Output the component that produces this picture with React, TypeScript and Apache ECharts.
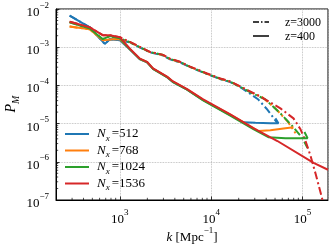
import React, { useEffect, useRef } from 'react';
import * as echarts from 'echarts';

const COLORS = ['#1f77b4', '#ff7f0e', '#2ca02c', '#d62728'];
const resolutions = ['512', '768', '1024', '1536'];

// z = 400 (solid)
const blueZ400: [number, number][] = [
  [282, 6.67e-3], [468, 3.32e-3], [684, 1.22e-3], [776, 1.62e-3], [1000, 1.53e-3],
  [1288, 8.7e-4], [1660, 4.8e-4], [1982, 4.0e-4], [2307, 2.7e-4], [3283, 1.64e-4],
  [3821, 1.22e-4], [5448, 7.7e-5], [8166, 4.1e-5], [16180, 1.66e-5], [22490, 1.08e-5],
  [30500, 1.05e-5], [44460, 1.02e-5], [54450, 1.02e-5], [50470, 1.37e-5],
];
const orangeZ400: [number, number][] = [
  [282, 3.46e-3], [468, 2.94e-3], [650, 1.53e-3], [837, 1.62e-3], [1000, 1.62e-3],
  [1288, 8.9e-4], [1660, 4.9e-4], [1982, 4.1e-4], [2307, 2.75e-4], [3283, 1.68e-4],
  [3821, 1.25e-4], [5448, 7.9e-5], [8166, 4.2e-5], [16180, 1.71e-5], [28970, 7.6e-6],
  [32830, 6.4e-6], [44460, 6.7e-6], [65010, 7.6e-6], [79620, 8.0e-6],
];
const greenZ400: [number, number][] = [
  [282, 4.5e-3], [468, 3.1e-3], [650, 1.62e-3], [776, 1.95e-3], [1000, 1.7e-3],
  [1288, 8.8e-4], [1660, 4.85e-4], [1982, 4.05e-4], [2307, 2.7e-4], [3283, 1.65e-4],
  [3821, 1.22e-4], [5448, 7.7e-5], [8166, 4.05e-5], [16180, 1.62e-5], [28970, 7.2e-6],
  [42270, 4.4e-6], [65010, 4.16e-6], [95000, 4.16e-6], [113500, 4.16e-6], [105000, 6.0e-6],
];
const redZ400: [number, number][] = [
  [282, 4.66e-3], [468, 3.32e-3], [650, 2.06e-3], [776, 2.06e-3], [1000, 1.83e-3],
  [1288, 9.1e-4], [1660, 5.0e-4], [1982, 4.15e-4], [2307, 2.8e-4], [3283, 1.7e-4],
  [3821, 1.27e-4], [5448, 8.0e-5], [8166, 4.3e-5], [16180, 1.75e-5], [28970, 7.6e-6],
  [53090, 3.5e-6], [132100, 9.4e-7], [190000, 6.2e-7],
];

// z = 3000 (dash-dot)
const blueZ3000: [number, number][] = [
  [282, 6.67e-3], [468, 3.32e-3], [684, 1.22e-3], [776, 1.62e-3], [1000, 1.53e-3],
  [1288, 1.33e-3], [1660, 9.8e-4], [2138, 7.3e-4], [2972, 6.1e-4], [3540, 4.8e-4],
  [4563, 4.0e-4], [5874, 3.0e-4], [9036, 1.97e-4], [12560, 1.46e-4], [16180, 1.22e-4],
  [20840, 9.0e-5], [26850, 6.0e-5], [32830, 4.26e-5], [40180, 2.49e-5], [46770, 1.55e-5],
  [53090, 1.02e-5],
];
const orangeZ3000: [number, number][] = [
  [282, 3.46e-3], [468, 2.94e-3], [650, 1.53e-3], [837, 1.62e-3], [1000, 1.62e-3],
  [1288, 1.36e-3], [1660, 1.0e-3], [2138, 7.47e-4], [2972, 6.24e-4], [3540, 4.92e-4],
  [4563, 4.11e-4], [5874, 3.05e-4], [9036, 2.01e-4], [12560, 1.49e-4], [16180, 1.25e-4],
  [20840, 9.25e-5], [28000, 6.4e-5], [36310, 4.9e-5], [50470, 2.49e-5], [68390, 1.15e-5],
  [83760, 5.6e-6],
];
const greenZ3000: [number, number][] = [
  [282, 4.5e-3], [468, 3.1e-3], [650, 1.62e-3], [776, 1.95e-3], [1000, 1.7e-3],
  [1288, 1.36e-3], [1660, 1.0e-3], [2138, 7.47e-4], [2972, 6.24e-4], [3540, 4.92e-4],
  [4563, 4.11e-4], [5874, 3.05e-4], [9036, 2.01e-4], [12560, 1.49e-4], [16180, 1.25e-4],
  [20840, 9.1e-5], [30000, 5.8e-5], [39170, 4.3e-5], [57280, 1.85e-5], [77620, 8.5e-6],
  [100000, 4.16e-6], [113500, 2.29e-6],
];
const redZ3000: [number, number][] = [
  [282, 4.66e-3], [468, 3.32e-3], [650, 2.06e-3], [776, 2.06e-3], [1000, 1.83e-3],
  [1288, 1.38e-3], [1660, 1.02e-3], [2138, 7.5e-4], [2972, 6.3e-4], [3540, 5.0e-4],
  [4563, 4.15e-4], [5874, 3.1e-4], [9036, 2.05e-4], [12560, 1.52e-4], [16180, 1.27e-4],
  [20840, 9.4e-5], [34540, 5.1e-5], [57280, 2.5e-5], [79620, 1.37e-5], [95000, 7.1e-6],
  [107900, 3.48e-6], [122500, 1.42e-6], [139000, 4.86e-7], [166000, 9.7e-8], [179000, 3.96e-8],
];

const z400Series = [blueZ400, orangeZ400, greenZ400, redZ400];
const z3000Series = [blueZ3000, orangeZ3000, greenZ3000, redZ3000];

const X_MIN = 200;
const X_MAX = 190000;
const Y_MIN = 1e-7;
const Y_MAX = 1e-2;

const xMinorTicks = [300, 400, 500, 600, 700, 800, 900, 2000, 3000, 4000, 5000, 6000, 7000, 8000, 9000,
  20000, 30000, 40000, 50000, 60000, 70000, 80000, 90000];
const yMinorTicks: number[] = [];
for (let e = -7; e < -2; e++) for (let m = 2; m <= 9; m++) yMinorTicks.push(m * Math.pow(10, e));

const SERIF = 'Liberation Serif';
const DASHDOT = [8, 3, 2, 3];

const fmtPow = (v: number) => {
  const e = Math.log10(v);
  const r = Math.round(e);
  if (Math.abs(e - r) > 1e-6) return '';
  return `{b|10}{s|${r < 0 ? '\u2212' + -r : r}}`;
};

const tickRich = {
  b: { fontFamily: SERIF, fontSize: 13, color: '#000', lineHeight: 18, verticalAlign: 'bottom' },
  s: { fontFamily: SERIF, fontSize: 9, color: '#000', lineHeight: 9, verticalAlign: 'top' },
};

export default function App() {
  const ref = useRef<HTMLDivElement>(null);
  useEffect(() => {
    const chart = echarts.init(ref.current!, null, { renderer: 'svg' });
    const series: any[] = [];
    z3000Series.forEach((d, i) => {
      series.push({
        type: 'line', data: d, showSymbol: false, symbol: 'none', z: 2,
        lineStyle: { color: COLORS[i], width: 2, type: DASHDOT },
      });
    });
    z400Series.forEach((d, i) => {
      series.push({
        type: 'line', data: d, showSymbol: false, symbol: 'none', z: 3,
        lineStyle: { color: COLORS[i], width: 2, type: 'solid' },
      });
    });
    const minorData: number[][] = [
      ...xMinorTicks.map((k) => [k, Y_MIN, 0]),
      ...yMinorTicks.map((p) => [X_MIN, p, 1]),
    ];
    series.push({
      type: 'custom', data: minorData, silent: true, z: 10, clip: false,
      renderItem: (_p: any, api: any) => {
        const t = api.value(2);
        const pt = api.coord([api.value(0), api.value(1)]);
        const len = 2.2;
        return {
          type: 'line',
          shape: t === 0
            ? { x1: pt[0], y1: pt[1], x2: pt[0], y2: pt[1] - len }
            : { x1: pt[0], y1: pt[1], x2: pt[0] + len, y2: pt[1] },
          style: { stroke: '#000', lineWidth: 0.7 },
        };
      },
    });

    const legendRows = resolutions.map((r, i) => [
      {
        type: 'line', shape: { x1: 65, y1: 134 + i * 16.5, x2: 89, y2: 134 + i * 16.5 },
        style: { stroke: COLORS[i], lineWidth: 2 },
      },
      {
        type: 'text', x: 97, y: 134 + i * 16.5,
        style: {
          text: `{n|N}{x|x}{t|=${r}}`,
          textVerticalAlign: 'middle',
          rich: {
            n: { fontFamily: SERIF, fontStyle: 'italic', fontSize: 13, lineHeight: 16, verticalAlign: 'top' },
            x: { fontFamily: SERIF, fontStyle: 'italic', fontSize: 9, lineHeight: 9, verticalAlign: 'bottom' },
            t: { fontFamily: SERIF, fontSize: 13, lineHeight: 16, verticalAlign: 'top', padding: [0, 0, 0, 2] },
          },
        },
      },
    ]).flat();

    chart.setOption({
      animation: false,
      grid: { left: 56, right: 6, top: 7, bottom: 50, show: true, borderColor: '#000', borderWidth: 1, backgroundColor: 'transparent' },
      xAxis: {
        type: 'log', logBase: 10, min: X_MIN, max: X_MAX,
        axisLine: { show: true, lineStyle: { color: '#000', width: 1 } },
        axisTick: { show: true, inside: true, length: 3.5, lineStyle: { color: '#000', width: 0.8 } },
        minorTick: { show: false },
        splitLine: { show: true, lineStyle: { color: '#b0b0b0', type: 'dotted', width: 0.8 } },
        axisLabel: { formatter: fmtPow, rich: tickRich, margin: 7, showMinLabel: false, showMaxLabel: false },
      },
      yAxis: {
        type: 'log', logBase: 10, min: Y_MIN, max: Y_MAX,
        axisLine: { show: true, lineStyle: { color: '#000', width: 1 } },
        axisTick: { show: true, inside: true, length: 3.5, lineStyle: { color: '#000', width: 0.8 } },
        minorTick: { show: false },
        splitLine: { show: true, lineStyle: { color: '#b0b0b0', type: 'dotted', width: 0.8 } },
        axisLabel: { formatter: fmtPow, rich: tickRich, margin: 7 },
      },
      series,
      graphic: [
        ...legendRows,
        {
          type: 'line', shape: { x1: 253, y1: 22, x2: 269, y2: 22 },
          style: { stroke: '#000', lineWidth: 1.5, lineDash: [6, 2, 1.5, 2] },
        },
        {
          type: 'line', shape: { x1: 253, y1: 36, x2: 269, y2: 36 },
          style: { stroke: '#000', lineWidth: 1.5 },
        },
        {
          type: 'text', x: 285, y: 22,
          style: { text: 'z=3000', fontFamily: SERIF, fontSize: 12, fill: '#000', textVerticalAlign: 'middle' },
        },
        {
          type: 'text', x: 285, y: 36,
          style: { text: 'z=400', fontFamily: SERIF, fontSize: 12, fill: '#000', textVerticalAlign: 'middle' },
        },
        {
          type: 'text', x: 192, y: 234,
          style: {
            text: '{k|k} {t|[Mpc}{s|\u22121}{t|]}',
            textAlign: 'center', textVerticalAlign: 'middle',
            rich: {
              k: { fontFamily: SERIF, fontStyle: 'italic', fontSize: 13, lineHeight: 18, verticalAlign: 'bottom' },
              t: { fontFamily: SERIF, fontSize: 13, lineHeight: 18, verticalAlign: 'bottom' },
              s: { fontFamily: SERIF, fontSize: 9, lineHeight: 9, verticalAlign: 'top' },
            },
          },
        },
        {
          type: 'text', x: 12, y: 104, rotation: Math.PI / 2,
          style: {
            text: '{p|P}{m|M}',
            textAlign: 'center', textVerticalAlign: 'middle',
            rich: {
              p: { fontFamily: SERIF, fontStyle: 'italic', fontSize: 14, lineHeight: 17, verticalAlign: 'top' },
              m: { fontFamily: SERIF, fontStyle: 'italic', fontSize: 10, lineHeight: 10, verticalAlign: 'bottom' },
            },
          },
        },
      ],
    });
    return () => chart.dispose();
  }, []);
  return <div ref={ref} style={{ position: 'fixed', left: 0, top: 0, width: 334, height: 250 }} />;
}
